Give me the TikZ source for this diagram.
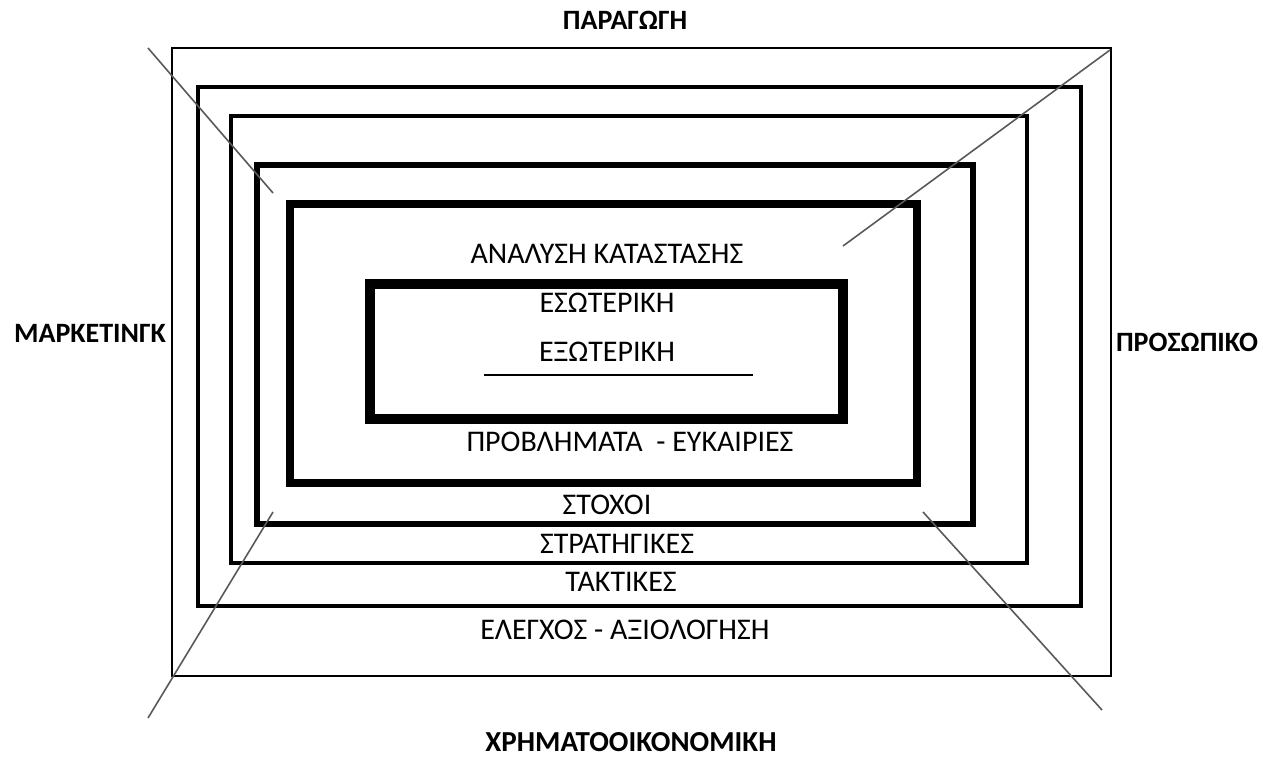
\documentclass[tikz,border=0pt]{standalone}
\usepackage{fontspec}
\setmainfont{Carlito}
\begin{document}
\begin{tikzpicture}[x=1pt,y=-1pt,
  box/.style={draw=black,line join=miter},
  lbl/.style={inner sep=0pt,font=\fontsize{30}{36}\selectfont},
  blbl/.style={inner sep=0pt,font=\fontsize{28}{34}\selectfont\bfseries},
  diag/.style={draw=black!65,line width=1.6pt}]
\useasboundingbox (0,0) rectangle (1263,758);
% nested rectangles
\draw[box,line width=2pt] (172,48) rectangle (1111,676);
\draw[box,line width=4pt] (198,87) rectangle (1081,606);
\draw[box,line width=4pt] (231,116) rectangle (1027,563);
\draw[box,line width=6pt] (257,165) rectangle (973,524);
\draw[box,line width=8pt] (290,204) rectangle (917,483);
\draw[box,line width=10pt] (370,284) rectangle (843,419);
% diagonal coordinates
\coordinate (tla) at (148,48);
\coordinate (tlb) at (273,193);
\coordinate (tra) at (1110,50);
\coordinate (trb) at (843,246);
\coordinate (bla) at (273,512);
\coordinate (blb) at (148,718);
\coordinate (bra) at (923,512);
\coordinate (brb) at (1102,710);
\draw[diag] (tla) -- (tlb);
\draw[diag] (tra) -- (trb);
\draw[diag] (bla) -- (blb);
\draw[diag] (bra) -- (brb);
% outer labels
\node[blbl] (par) at (625,20) {ΠΑΡΑΓΩΓΗ};
\node[blbl] (mar) at (90,333) {ΜΑΡΚΕΤΙΝΓΚ};
\node[blbl] (pro) at (1187,342) {ΠΡΟΣΩΠΙΚΟ};
\node[blbl,font=\fontsize{29}{34}\selectfont\bfseries] (xri) at (631,742) {ΧΡΗΜΑΤΟΟΙΚΟΝΟΜΙΚΗ};
% inner labels
\node[lbl] (ana) at (607,254) {ΑΝΑΛΥΣΗ ΚΑΤΑΣΤΑΣΗΣ};
\node[lbl] (eso) at (607,303) {ΕΣΩΤΕΡΙΚΗ};
\node[lbl] (exo) at (607,352) {ΕΞΩΤΕΡΙΚΗ};
\coordinate (ula) at (484,375);
\coordinate (ulb) at (753,375);
\draw[line width=1.5pt] (ula) -- (ulb);
\node[lbl] (prob) at (630,442) {ΠΡΟΒΛΗΜΑΤΑ\ \ - ΕΥΚΑΙΡΙΕΣ};
\node[lbl] (sto) at (607,505) {ΣΤΟΧΟΙ};
\node[lbl] (str) at (617,544) {ΣΤΡΑΤΗΓΙΚΕΣ};
\node[lbl] (tak) at (621,582) {ΤΑΚΤΙΚΕΣ};
\node[lbl] (ele) at (625,630) {ΕΛΕΓΧΟΣ - ΑΞΙΟΛΟΓΗΣΗ};
\end{tikzpicture}
\end{document}
